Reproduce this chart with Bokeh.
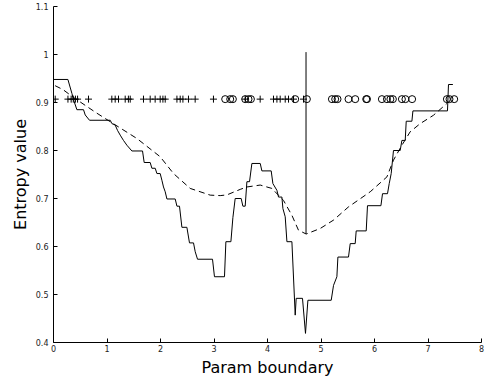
from bokeh.plotting import figure
from bokeh.models import Range1d, FixedTicker
from bokeh.embed import file_html
from bokeh.resources import INLINE

# Solid (step-like) entropy curve
solid_x = [0.0, 0.269, 0.344, 0.374, 0.437, 0.561, 0.593, 0.673, 1.060, 1.092, 1.153, 1.196,
           1.247, 1.308, 1.372, 1.465, 1.664, 1.695, 1.807, 1.839, 1.901, 1.933, 1.994, 2.026,
           2.056, 2.088, 2.120, 2.275, 2.307, 2.355, 2.400, 2.493, 2.542, 2.617, 2.649, 2.692,
           2.972, 3.009, 3.196, 3.222, 3.316, 3.353, 3.396, 3.508, 3.540, 3.583, 3.615, 3.664,
           3.708, 3.864, 3.895, 4.069, 4.101, 4.176, 4.206, 4.269, 4.288, 4.331, 4.363, 4.456,
           4.518, 4.536, 4.654, 4.710, 4.755, 5.191, 5.234, 5.297, 5.316, 5.514, 5.546, 5.639,
           5.658, 5.845, 5.869, 6.120, 6.150, 6.243, 6.275, 6.312, 6.355, 6.480, 6.512, 6.574,
           6.593, 6.699, 6.718, 7.364, 7.383, 7.465]
solid_y = [0.948, 0.948, 0.919, 0.906, 0.885, 0.885, 0.874, 0.863, 0.863, 0.856, 0.853, 0.842,
           0.832, 0.821, 0.811, 0.799, 0.799, 0.775, 0.775, 0.763, 0.763, 0.752, 0.752, 0.738,
           0.724, 0.714, 0.699, 0.699, 0.684, 0.684, 0.640, 0.640, 0.6075, 0.6075, 0.589, 0.5735,
           0.5735, 0.537, 0.537, 0.610, 0.610, 0.660, 0.700, 0.700, 0.684, 0.684, 0.735, 0.735,
           0.773, 0.773, 0.7575, 0.7575, 0.731, 0.717, 0.703, 0.703, 0.679, 0.662, 0.610, 0.610,
           0.457, 0.492, 0.492, 0.419, 0.488, 0.488, 0.519, 0.537, 0.578, 0.578, 0.606, 0.606,
           0.6325, 0.6325, 0.685, 0.685, 0.710, 0.710, 0.731, 0.752, 0.800, 0.800, 0.821, 0.821,
           0.861, 0.861, 0.8825, 0.8825, 0.9375, 0.9375]

# Dashed smooth curve
dash_x = [0.03, 0.176, 0.368, 0.779, 1.060, 1.559, 1.994, 2.243, 2.555, 2.929, 3.116, 3.241,
          3.490, 3.615, 3.864, 4.082, 4.299, 4.456, 4.579, 4.723, 4.985, 5.234, 5.514, 5.920,
          6.232, 6.355, 6.512, 6.667, 6.854, 7.103, 7.353]
dash_y = [0.935, 0.927, 0.911, 0.880, 0.860, 0.825, 0.787, 0.752, 0.721, 0.707, 0.706, 0.7075,
          0.719, 0.724, 0.728, 0.721, 0.696, 0.665, 0.634, 0.626, 0.6375, 0.655, 0.6825, 0.714,
          0.745, 0.780, 0.811, 0.839, 0.856, 0.8735, 0.898]

# Vertical boundary marker
vline_x = [4.72, 4.72]
vline_y = [0.626, 1.005]

# Sample markers
marker_level = 0.907
plus_x = [0.032, 0.27, 0.33, 0.37, 0.41, 0.45, 0.654, 1.09, 1.153, 1.215, 1.34, 1.40, 1.434,
          1.682, 1.807, 1.90, 1.994, 2.045, 2.088, 2.307, 2.368, 2.419, 2.523, 2.648, 2.99,
          3.583, 3.863, 4.112, 4.176, 4.237, 4.331, 4.393, 4.486, 4.673]
circle_x = [3.209, 3.303, 3.353, 3.583, 3.645, 3.69, 4.518, 4.736, 5.204, 5.265, 5.309, 5.514,
            5.64, 5.845, 5.86, 6.138, 6.232, 6.297, 6.344, 6.512, 6.578, 6.703, 7.353, 7.402, 7.49]

x_ticks = [0, 1, 2, 3, 4, 5, 6, 7, 8]
y_ticks = [0.4, 0.5, 0.6, 0.7, 0.8, 0.9, 1.0, 1.1]
y_tick_labels = ["0.4", "0.5", "0.6", "0.7", "0.8", "0.9", "1", "1.1"]

p = figure(width=484, height=382, output_backend="svg", toolbar_location=None,
           x_range=Range1d(0, 8), y_range=Range1d(0.4, 1.1),
           min_border_left=53, min_border_right=3, min_border_top=6, min_border_bottom=40)
p.outline_line_color = None
p.xgrid.visible = False
p.ygrid.visible = False
p.background_fill_color = "white"
p.border_fill_color = "white"

p.line(solid_x, solid_y, line_color="black", line_width=1)
p.line(dash_x, dash_y, line_color="black", line_width=1, line_dash="6 4")
p.line(vline_x, vline_y, line_color="black", line_width=1)
p.scatter(plus_x, [marker_level] * len(plus_x), marker="cross", size=7,
          line_color="black", line_width=1)
p.scatter(circle_x, [marker_level] * len(circle_x), marker="circle", size=7,
          fill_color=None, line_color="black", line_width=1)

for ax in (p.xaxis, p.yaxis):
    ax.major_tick_in = 4
    ax.major_tick_out = 0
    ax.minor_tick_in = 0
    ax.minor_tick_out = 0
    ax.axis_line_color = "black"
    ax.major_tick_line_color = "black"
    ax.major_label_text_font = "DejaVu Sans"
    ax.major_label_text_font_size = "8px"
    ax.major_label_text_color = "#222222"
    ax.axis_label_text_font = "DejaVu Sans"
    ax.axis_label_text_font_size = "16px"
    ax.axis_label_text_font_style = "normal"
    ax.axis_label_text_color = "black"

p.xaxis.ticker = FixedTicker(ticks=x_ticks)
p.yaxis.ticker = FixedTicker(ticks=y_ticks)
p.yaxis.major_label_overrides = {t: l for t, l in zip(y_ticks, y_tick_labels)}
p.xaxis.major_label_standoff = 2
p.yaxis.major_label_standoff = 5
p.xaxis.axis_label = "Param boundary"
p.yaxis.axis_label = "Entropy value"
p.xaxis.axis_label_standoff = 3
p.yaxis.axis_label_standoff = 3

open("out.html", "w").write(file_html(p, INLINE))
